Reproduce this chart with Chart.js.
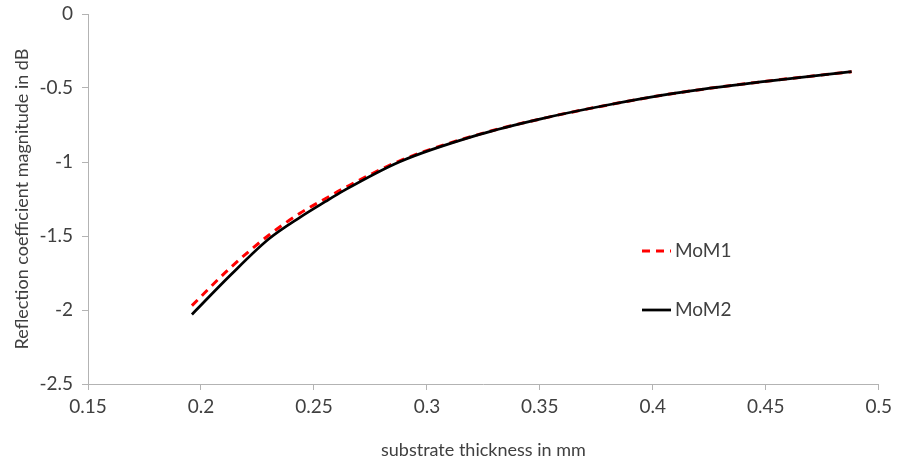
<!DOCTYPE html>
<html>
<head>
<meta charset="utf-8">
<script src="https://cdn.jsdelivr.net/npm/chart.js@4/dist/chart.umd.min.js"></script>
<style>
  html, body { margin: 0; padding: 0; background: #fff; }
  canvas { display: block; }
</style>
</head>
<body>
<canvas id="chart" width="897" height="466"></canvas>
<script>
// substrate thickness (mm)
var thickness = [0.196, 0.213, 0.23, 0.244, 0.255, 0.263, 0.288, 0.323, 0.35, 0.38, 0.41, 0.45, 0.488];
// reflection coefficient magnitude (dB)
var mom1 = [-1.97, -1.715, -1.495, -1.345, -1.248, -1.18, -0.992, -0.813, -0.71, -0.615, -0.535, -0.455, -0.39];
var mom2 = [-2.03, -1.765, -1.52, -1.372, -1.268, -1.195, -0.998, -0.815, -0.71, -0.615, -0.535, -0.455, -0.39];
var seriesNames = ['MoM1', 'MoM2'];
var xTicks = [0.15, 0.2, 0.25, 0.3, 0.35, 0.4, 0.45, 0.5];
var yTicks = [0, -0.5, -1, -1.5, -2, -2.5];

var FONT = 'Lato, "Open Sans", sans-serif';
var TEXT = '#404040';
var AXIS = '#b3b3b3';

function points(ys) {
  return thickness.map(function (x, i) { return { x: x, y: ys[i] }; });
}

// legend drawn inside the plot, like the original
var insideLegend = {
  id: 'insideLegend',
  afterDraw: function (chart) {
    var ctx = chart.ctx;
    var area = chart.chartArea;
    var sets = chart.data.datasets;
    var x0 = area.left + 554;
    var rows = [area.top + 237, area.top + 296];
    ctx.save();
    ctx.font = '19px ' + FONT;
    ctx.textBaseline = 'middle';
    ctx.fillStyle = TEXT;
    sets.forEach(function (ds, i) {
      var y = rows[i];
      ctx.beginPath();
      ctx.strokeStyle = ds.borderColor;
      ctx.lineWidth = ds.borderWidth;
      ctx.setLineDash(ds.borderDash || []);
      ctx.moveTo(x0, y);
      ctx.lineTo(x0 + 29, y);
      ctx.stroke();
      ctx.setLineDash([]);
      ctx.fillText(ds.label, x0 + 33, y);
    });
    ctx.restore();
  }
};

new Chart(document.getElementById('chart'), {
  type: 'line',
  data: {
    datasets: [{
      label: seriesNames[0],
      data: points(mom1),
      borderColor: '#ff0000',
      borderWidth: 3,
      borderDash: [8, 6],
      pointRadius: 0,
      cubicInterpolationMode: 'monotone',
      order: 1
    }, {
      label: seriesNames[1],
      data: points(mom2),
      borderColor: '#000000',
      borderWidth: 2.75,
      pointRadius: 0,
      cubicInterpolationMode: 'monotone',
      order: 0
    }]
  },
  options: {
    responsive: false,
    animation: false,
    layout: { padding: { top: 14, right: 17, left: 0, bottom: 0 } },
    plugins: {
      legend: { display: false },
      tooltip: { enabled: false }
    },
    scales: {
      x: {
        type: 'linear',
        min: 0.15,
        max: 0.5,
        afterBuildTicks: function (scale) {
          scale.ticks = xTicks.map(function (v) { return { value: v }; });
        },
        afterFit: function (scale) { scale.height = 82; },
        grid: { drawOnChartArea: false, color: AXIS, tickLength: 6 },
        border: { color: AXIS, width: 1 },
        ticks: {
          color: TEXT,
          font: { family: FONT, size: 19 },
          padding: 5,
          maxRotation: 0,
          callback: function (v) { return String(Math.round(v * 100) / 100); }
        },
        title: {
          display: true,
          text: 'substrate thickness in mm',
          color: TEXT,
          font: { family: FONT, size: 18 },
          padding: { top: 0, bottom: 5 }
        }
      },
      y: {
        type: 'linear',
        min: -2.5,
        max: 0,
        afterBuildTicks: function (scale) {
          scale.ticks = yTicks.map(function (v) { return { value: v }; });
        },
        afterFit: function (scale) {
          scale.width = 88;
          scale.paddingTop = 0;
          scale.paddingBottom = 0;
        },
        grid: { drawOnChartArea: false, color: AXIS, tickLength: 6 },
        border: { color: AXIS, width: 1 },
        ticks: {
          color: TEXT,
          font: { family: FONT, size: 19 },
          padding: 9,
          callback: function (v) { return String(v); }
        },
        title: {
          display: true,
          text: 'Reflection coefficient magnitude in dB',
          color: TEXT,
          font: { family: FONT, size: 18 },
          padding: { top: 11, bottom: 0 }
        }
      }
    }
  },
  plugins: [insideLegend]
});
</script>
</body>
</html>
